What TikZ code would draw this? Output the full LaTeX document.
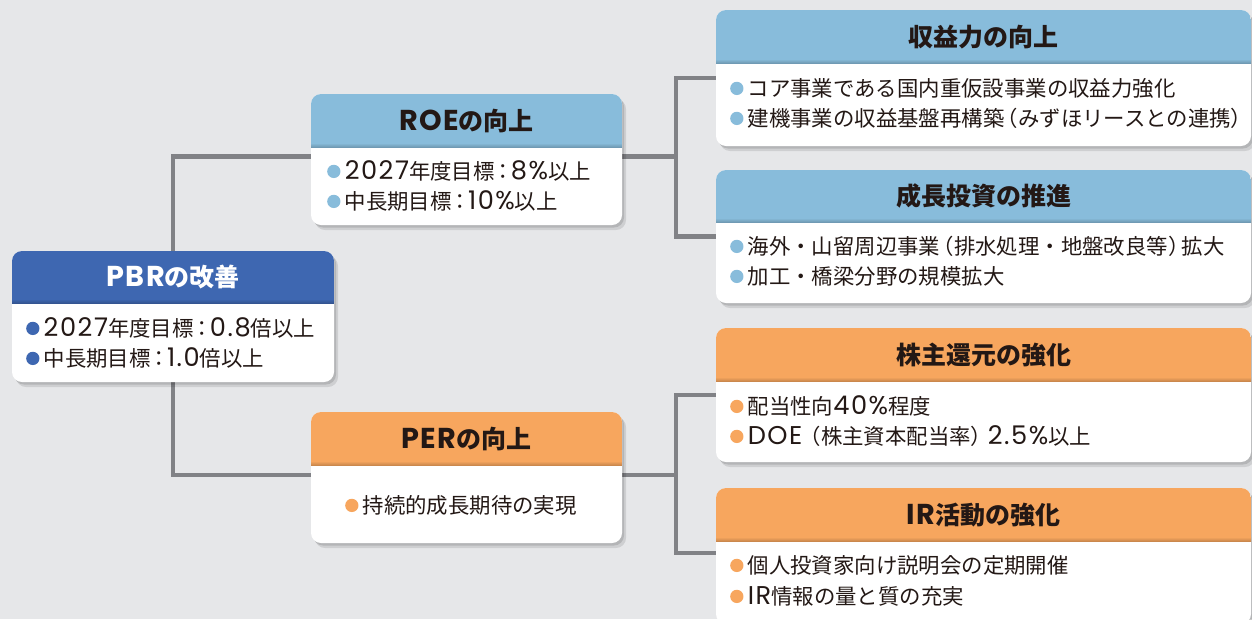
\documentclass[tikz,border=0pt]{standalone}
\usepackage{fontspec}
\setmainfont{Noto Sans CJK JP}
\newfontfamily\latf[Scale=1.2]{Poppins}
\newfontfamily\lath[Scale=1.15]{Poppins}
\usetikzlibrary{shadows}
\definecolor{bgc}{HTML}{E6E7E9}
\definecolor{hblue}{HTML}{3E67B1}
\definecolor{lblue}{HTML}{88BCDB}
\definecolor{orng}{HTML}{F7A65E}
\definecolor{linec}{HTML}{818286}
\definecolor{txt}{HTML}{231815}
\pgfdeclarelayer{bg}
\pgfsetlayers{bg,main}
\newcommand\nm[1]{{\latf\addfontfeature{LetterSpace=6}#1}}
\newcommand\lt[1]{{\lath\addfontfeature{LetterSpace=5}#1}}
\newcommand\cln{\kern-0.12em：\kern-0.12em}
\newcommand\lp{\kern-0.36em（}
\newcommand\rp{）\kern-0.36em}
\newcommand\bul[1]{\tikz[baseline=0pt]\fill[#1] (0pt,0.36em) circle (0.31em);\hspace{0.2em}}
\tikzset{
  panel/.style={rectangle, rounded corners=10pt, fill=white, inner sep=0pt, outer sep=0pt,
    general shadow={fill=black, opacity=0.10, shadow xshift=4pt, shadow yshift=-5pt},
    general shadow={fill=black, opacity=0.12, shadow xshift=2pt, shadow yshift=-2.5pt}},
  conn/.style={line width=4.5pt, draw=linec},
  hdtxt/.style={font=\fontsize{25pt}{30pt}\selectfont\bfseries, text=txt, inner sep=0pt,
    text height=22pt, text depth=3pt},
  item/.style={anchor=west, font=\fontsize{21.4pt}{26pt}\selectfont, text=txt, inner sep=0pt,
    text height=18.8pt, text depth=2.6pt},
}
\newcommand\panel[7]{%
  \node[panel, minimum width={#4-#2}, minimum height={#6-#3}] (#1) at ({(#2+#4)/2},{(#3+#6)/2}) {};
  \begin{scope}
    \clip[rounded corners=10pt] (#2,#3) rectangle (#4,#6);
    \fill[#7] (#2,#3) rectangle (#4,#5);
    \shade[top color=#7, bottom color=#7!82!black] (#2,#5-4) rectangle (#4,#5);
  \end{scope}}
\begin{document}
\begin{tikzpicture}[x=1pt,y=-1pt]
\useasboundingbox (0,0) rectangle (1252,619);
% panels
\panel{pbr}{12}{251}{334}{303}{382}{hblue}
\panel{roe}{311}{94}{622}{147}{225}{lblue}
\panel{per}{311}{412}{622}{465}{543}{orng}
\panel{r1}{716}{10}{1251}{63}{146}{lblue}
\panel{r2}{716}{170}{1251}{222}{303}{lblue}
\panel{r3}{716}{328}{1251}{381}{462}{orng}
\panel{r4}{716}{488}{1251}{541}{624}{orng}
% headers
\node[hdtxt, text=white] (pbr-h) at (173,277) {\lt{PBR}の改善};
\node[hdtxt] (roe-h) at (466.5,120.5) {\lt{ROE}の向上};
\node[hdtxt] (per-h) at (466.5,438.5) {\lt{PER}の向上};
\node[hdtxt] (r1-h) at (983.5,36.5) {収益力の向上};
\node[hdtxt] (r2-h) at (983.5,196) {成長投資の推進};
\node[hdtxt] (r3-h) at (983.5,354.5) {株主還元の強化};
\node[hdtxt] (r4-h) at (983.5,514.5) {\lt{IR}活動の強化};
% items
\node[item] (pbr-1) at (26,328) {\bul{hblue}\nm{2027}年度目標\cln\nm{0.8}倍以上};
\node[item] (pbr-2) at (26,358) {\bul{hblue}中長期目標\cln\nm{1.0}倍以上};
\node[item] (roe-1) at (327,171) {\bul{lblue}\nm{2027}年度目標\cln\nm{8\%}以上};
\node[item] (roe-2) at (327,201) {\bul{lblue}中長期目標\cln\nm{10\%}以上};
\node[item] (per-1) at (345,505) {\bul{orng}持続的成長期待の実現};
\node[item] (r1-1) at (730,88) {\bul{lblue}コア事業である国内重仮設事業の収益力強化};
\node[item] (r1-2) at (730,118) {\bul{lblue}建機事業の収益基盤再構築\lp みずほリースとの連携\rp};
\node[item] (r2-1) at (730,246) {\bul{lblue}海外・山留周辺事業\lp 排水処理・地盤改良等\rp 拡大};
\node[item] (r2-2) at (730,276) {\bul{lblue}加工・橋梁分野の規模拡大};
\node[item] (r3-1) at (730,406) {\bul{orng}配当性向\nm{40\%}程度};
\node[item] (r3-2) at (730,436) {\bul{orng}\nm{DOE}\kern-0.12em（株主資本配当率\rp\kern0.15em\nm{2.5\%}以上};
\node[item] (r4-1) at (730,565) {\bul{orng}個人投資家向け説明会の定期開催};
\node[item] (r4-2) at (730,596) {\bul{orng}\nm{IR}情報の量と質の充実};
% connectors
\coordinate (kt) at (676,0);
\coordinate (roew) at ([yshift=3pt]roe.west);
\coordinate (roee) at ([yshift=3pt]roe.east);
\coordinate (perw) at ([yshift=2.5pt]per.west);
\coordinate (pere) at ([yshift=2.5pt]per.east);
\coordinate (r4in) at ([yshift=3pt]r4.west);
\begin{pgfonlayer}{bg}
\fill[bgc] (0,0) rectangle (1252,619);
\draw[conn] (roew) -| (pbr.center);
\draw[conn] (perw) -| (pbr.center);
\draw[conn] (roee) -- (roee -| kt);
\draw[conn] (r1.west) -| (kt |- r2.west) -- (r2.west);
\draw[conn] (pere) -- (pere -| kt);
\draw[conn] (r3.west) -| (kt |- r4in) -- (r4in);
\end{pgfonlayer}
\end{tikzpicture}
\end{document}
